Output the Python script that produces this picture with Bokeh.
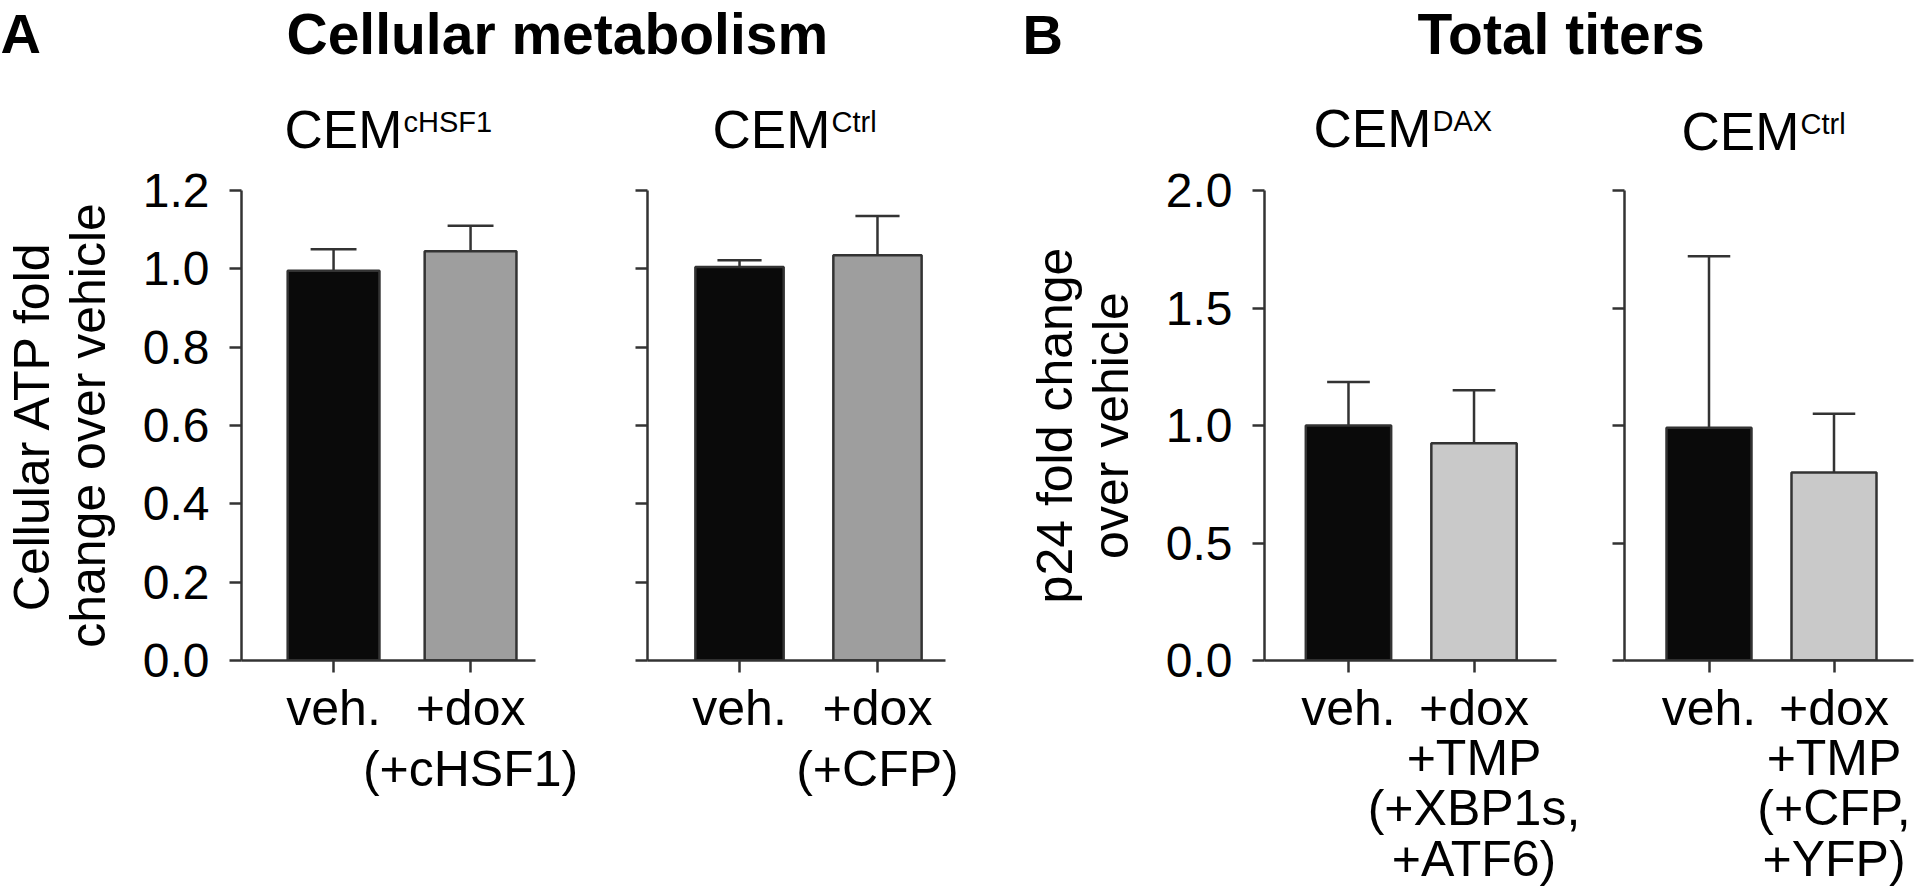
from bokeh.plotting import figure
from bokeh.models import (Range1d, FixedTicker, PrintfTickFormatter, Label,
                          CustomJSTickFormatter)
from bokeh.layouts import column, row
from bokeh.embed import file_html
from bokeh.resources import INLINE

# ---------------- data ----------------
a1_categories = ["veh.", "+dox\n(+cHSF1)"]
a1_means = [0.995, 1.045]
a1_errs = [0.055, 0.065]

a2_categories = ["veh.", "+dox\n(+CFP)"]
a2_means = [1.005, 1.035]
a2_errs = [0.017, 0.100]

b1_categories = ["veh.", "+dox\n+TMP\n(+XBP1s,\n+ATF6)"]
b1_means = [1.000, 0.925]
b1_errs = [0.185, 0.225]

b2_categories = ["veh.", "+dox\n+TMP\n(+CFP,\n+YFP)"]
b2_means = [0.990, 0.800]
b2_errs = [0.730, 0.250]

a_ticks = [0.0, 0.2, 0.4, 0.6, 0.8, 1.0, 1.2]
b_ticks = [0.0, 0.5, 1.0, 1.5, 2.0]

a_ylabel = "Cellular ATP fold\nchange over vehicle"
b_ylabel = "p24 fold change\nover vehicle"

panel_titles = [("A", "Cellular metabolism"), ("B", "Total titers")]
sub_titles = [("CEM", "cHSF1"), ("CEM", "Ctrl"), ("CEM", "DAX"), ("CEM", "Ctrl")]

# ---------------- style / layout ----------------
FONT = "Liberation Sans"
EDGE = "#333333"
BLACK = "#0a0a0a"
GRAY_A = "#9e9e9e"
GRAY_B = "#c9c9c9"
HEAD_H = 165
TOP_B = 25
FRAME_H = 470
BOT_B = 228


def panel(cats, means, errs, ticks, ymax, color, frame_w, xr, mbl, mbr,
          bar_w, ylabel, line_h):
    p = figure(title=None, frame_width=frame_w, frame_height=FRAME_H,
               x_range=Range1d(*xr), y_range=Range1d(0, ymax),
               min_border_left=mbl, min_border_right=mbr,
               min_border_top=TOP_B, min_border_bottom=BOT_B,
               toolbar_location=None, output_backend="svg",
               background_fill_color="white", border_fill_color="white",
               outline_line_color=None)
    p.grid.visible = False
    xs = list(range(len(cats)))
    p.vbar(x=xs, top=means, bottom=0, width=bar_w,
           fill_color=[BLACK, color], line_color=EDGE, line_width=2.5)
    tops = [m + e for m, e in zip(means, errs)]
    p.segment(x0=xs, y0=means, x1=xs, y1=tops, line_color=EDGE, line_width=2.5)
    half = bar_w * 0.25
    p.segment(x0=[x - half for x in xs], y0=tops, x1=[x + half for x in xs],
              y1=tops, line_color=EDGE, line_width=2.5)

    for ax in (p.xaxis[0], p.yaxis[0]):
        ax.axis_line_color = EDGE
        ax.axis_line_width = 2.5
        ax.major_tick_line_color = EDGE
        ax.major_tick_line_width = 2.5
        ax.major_tick_in = 0
        ax.major_tick_out = 12
        ax.minor_tick_line_color = None
        ax.major_label_text_font = FONT
        ax.major_label_text_color = "black"

    xa = p.xaxis[0]
    xa.ticker = FixedTicker(ticks=xs)
    xa.major_label_overrides = {i: c for i, c in enumerate(cats)}
    xa.major_label_standoff = 7
    xa.major_label_text_font_size = "50px"
    xa.major_label_text_line_height = line_h

    ya = p.yaxis[0]
    ya.ticker = FixedTicker(ticks=ticks)
    ya.major_label_text_font_size = "48px"
    if ylabel:
        ya.formatter = PrintfTickFormatter(format="%.1f")
        ya.major_label_standoff = 20
        ya.axis_label = ylabel
        ya.axis_label_text_font = FONT
        ya.axis_label_text_font_size = "50px"
        ya.axis_label_text_font_style = "normal"
        ya.axis_label_text_color = "black"
        ya.axis_label_standoff = 24
        ya.axis_label_text_line_height = 1.0
    else:
        ya.formatter = CustomJSTickFormatter(code="return ''")
        ya.major_label_standoff = 0
    return p


p1 = panel(a1_categories, a1_means, a1_errs, a_ticks, 1.2, GRAY_A, 294,
           (-0.672, 1.474), 231, 65, 0.67, a_ylabel, 1.1)
p2 = panel(a2_categories, a2_means, a2_errs, a_ticks, 1.2, GRAY_A, 298,
           (-0.667, 1.493), 47, 40, 0.64, None, 1.1)
p3 = panel(b1_categories, b1_means, b1_errs, b_ticks, 2.0, GRAY_B, 292,
           (-0.669, 1.657), 279, 44, 0.68, b_ylabel, 0.9)
p4 = panel(b2_categories, b2_means, b2_errs, b_ticks, 2.0, GRAY_B, 289,
           (-0.676, 1.636), 24, 1, 0.68, None, 0.9)

# ---------------- header with titles (y = page pixel of cap centre) ----------------
h = figure(title=None, width=1904, height=HEAD_H, x_range=Range1d(8, 1912),
           y_range=Range1d(HEAD_H, 0), x_axis_type=None, y_axis_type=None,
           min_border_left=0, min_border_right=0, min_border_top=0,
           min_border_bottom=0, toolbar_location=None, output_backend="svg",
           outline_line_color=None, background_fill_color="white",
           border_fill_color="white")
h.grid.visible = False


def lab(x, y, text, size, bold=False):
    h.add_layout(Label(x=x, y=y, text=text, text_font=FONT,
                       text_font_size=f"{size}px",
                       text_font_style="bold" if bold else "normal",
                       text_align="left", text_baseline="alphabetic",
                       text_color="black"))


lab(8, 33, panel_titles[0][0], 56, True)
lab(294, 33, panel_titles[0][1], 57, True)
lab(1030, 34, panel_titles[1][0], 56, True)
lab(1425, 33, panel_titles[1][1], 57, True)

for (main, sup), (mx, sx, my) in zip(sub_titles, [(292, 411, 129), (720, 839, 129),
                                                  (1321, 1440, 128), (1689, 1808, 131)]):
    lab(mx, my, main, 53)
    lab(sx, my - 8, sup, 29)

layout = column(h, row(p1, p2, p3, p4, spacing=0), spacing=0)

open("out.html", "w").write(file_html(layout, INLINE))
